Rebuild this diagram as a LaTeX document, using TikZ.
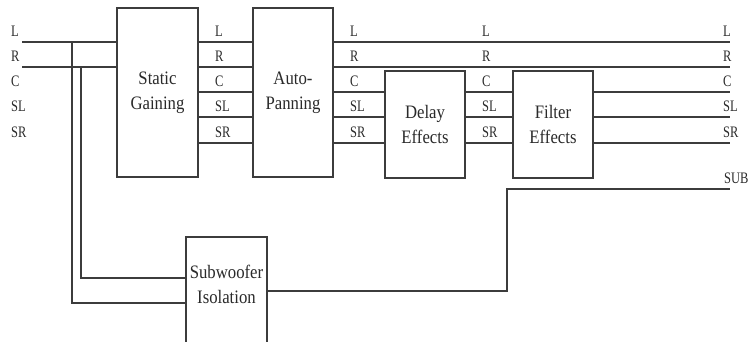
\documentclass[tikz,border=0pt]{standalone}
\usepackage{fontspec}
\setmainfont{Liberation Serif}
\newfontfamily\lblfont[FakeStretch=0.78]{Liberation Serif}
\newfontfamily\boxfont[FakeStretch=0.88]{Liberation Serif}
\usetikzlibrary{calc}
\definecolor{linec}{HTML}{3C3C3C}
\definecolor{txtc}{HTML}{2A2A2A}
\tikzset{
  blk/.style={draw=linec, line width=1.4pt, fill=white, inner sep=0pt, align=center,
    font=\boxfont\fontsize{19}{25}\selectfont, text=txtc},
  txt/.style={inner sep=0pt, align=center, font=\boxfont\fontsize{19}{25}\selectfont, text=txtc},
  lbl/.style={anchor=base west, inner sep=0pt, font=\lblfont\fontsize{16}{18}\selectfont, text=txtc},
  wire/.style={draw=linec, line width=1.4pt}
}
\begin{document}
\begin{tikzpicture}[x=1pt,y=-1pt]
\useasboundingbox (0,0) rectangle (750,342);
% blocks
\node[blk, minimum width=81pt, minimum height=169pt] (sg) at (157.5,92.5) {Static\\Gaining};
\node[blk, minimum width=80pt, minimum height=169pt] (ap) at (293,92.5) {Auto-\\Panning};
\node[blk, minimum width=80pt, minimum height=107pt] (de) at (425,124.5) {Delay\\Effects};
\node[blk, minimum width=80pt, minimum height=107pt] (fe) at (553,124.5) {Filter\\Effects};
\node[blk, minimum width=81pt, minimum height=108pt] (sw) at (226.5,291) {};
\node[txt] (swt) at (226.5,284) {Subwoofer\\Isolation};
% coordinates
\coordinate (inL) at (22,42);
\coordinate (inR) at (22,67);
\coordinate (tapL) at (72,42);
\coordinate (tapR) at (81,67);
\coordinate (sinL) at ($(sw.west)+(0,12)$);
\coordinate (sinR) at ($(sw.west)+(0,-13)$);
\coordinate (subbend) at (507,189);
\coordinate (outSUB) at (730,189);
% input lines
\draw[wire] (inL) -- (sg.west |- inL);
\draw[wire] (inR) -- (sg.west |- inR);
\draw[wire] (tapL) |- (sinL);
\draw[wire] (tapR) |- (sinR);
% static -> auto
\foreach \y in {42,67,92,117,143}{
  \draw[wire] (sg.east |- 0,\y) -- (ap.west |- 0,\y);
}
% auto -> outputs L, R
\foreach \y in {42,67}{
  \draw[wire] (ap.east |- 0,\y) -- (730,\y);
}
% C, SL, SR chain
\foreach \y in {92,117,143}{
  \draw[wire] (ap.east |- 0,\y) -- (de.west |- 0,\y);
  \draw[wire] (de.east |- 0,\y) -- (fe.west |- 0,\y);
  \draw[wire] (fe.east |- 0,\y) -- (730,\y);
}
% subwoofer output
\draw[wire] (sw.east) -| (subbend) -- (outSUB);
% labels
\foreach \x/\n in {11/a,215/b,350/c,482/d,723/e}{
  \node[lbl] (L\n) at (\x,37) {L};
  \node[lbl] (R\n) at (\x,62) {R};
  \node[lbl] (C\n) at (\x,87) {C};
  \node[lbl] (SL\n) at (\x,112) {SL};
  \node[lbl] (SR\n) at (\x,137.5) {SR};
}
\node[lbl] (SUBl) at (724,184) {SUB};
\end{tikzpicture}
\end{document}
